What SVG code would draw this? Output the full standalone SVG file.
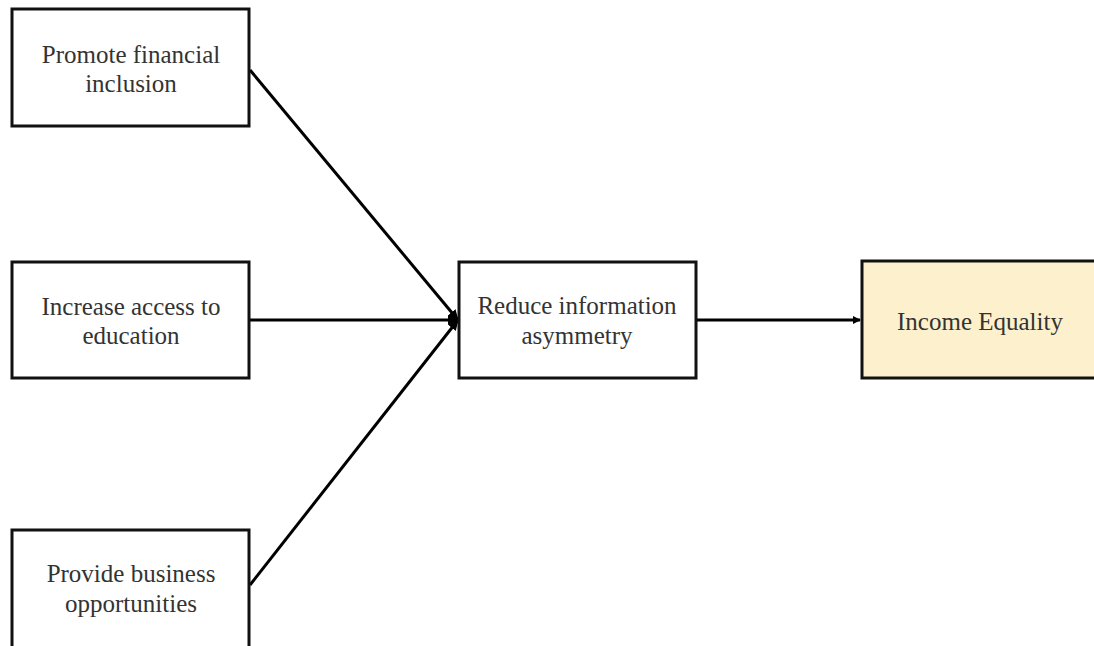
<svg xmlns="http://www.w3.org/2000/svg" width="1094" height="646" viewBox="0 0 1094 646">
<style>
.box{fill:#ffffff;stroke:#111111;stroke-width:3}
.hl{fill:#fdf0cc}
text{font-family:"Liberation Serif","Times New Roman",serif;font-size:25px;fill:#333333;text-anchor:middle}
.c{stroke:#000;stroke-width:3;fill:none}
</style>
<defs>
<marker id="ah" markerWidth="8" markerHeight="8" refX="7" refY="4" orient="auto" markerUnits="userSpaceOnUse">
<path d="M0,0 L8,4 L0,8 z" fill="#000"/>
</marker>
<marker id="ah2" markerWidth="12" markerHeight="12" refX="10" refY="6" orient="auto" markerUnits="userSpaceOnUse">
<path d="M0,1 L11,6 L0,11 z" fill="#000"/>
</marker>
</defs>
<rect width="1094" height="646" fill="#ffffff"/>
<g id="connectors">
<line class="c" x1="250" y1="70" x2="458" y2="320" marker-end="url(#ah2)"/>
<line class="c" x1="250" y1="320" x2="458" y2="320" marker-end="url(#ah2)"/>
<line class="c" x1="250" y1="585" x2="458" y2="320" marker-end="url(#ah2)"/>
<line class="c" x1="697" y1="320" x2="860" y2="320" stroke-width="2" marker-end="url(#ah)"/>
</g>
<g id="n1">
<rect class="box" x="12" y="9" width="237" height="117"/>
<text x="131" y="63">Promote financial</text>
<text x="131" y="92">inclusion</text>
</g>
<g id="n2">
<rect class="box" x="12" y="262" width="237" height="116"/>
<text x="131" y="315">Increase access to</text>
<text x="131" y="344">education</text>
</g>
<g id="n3">
<rect class="box" x="12" y="530" width="237" height="130"/>
<text x="131" y="582">Provide business</text>
<text x="131" y="612">opportunities</text>
</g>
<g id="n4">
<rect class="box" x="459" y="262" width="237" height="116"/>
<text x="577" y="314">Reduce information</text>
<text x="577" y="344">asymmetry</text>
</g>
<g id="n5">
<rect class="box hl" x="862" y="261" width="245" height="117"/>
<text x="980" y="330">Income Equality</text>
</g>
</svg>
